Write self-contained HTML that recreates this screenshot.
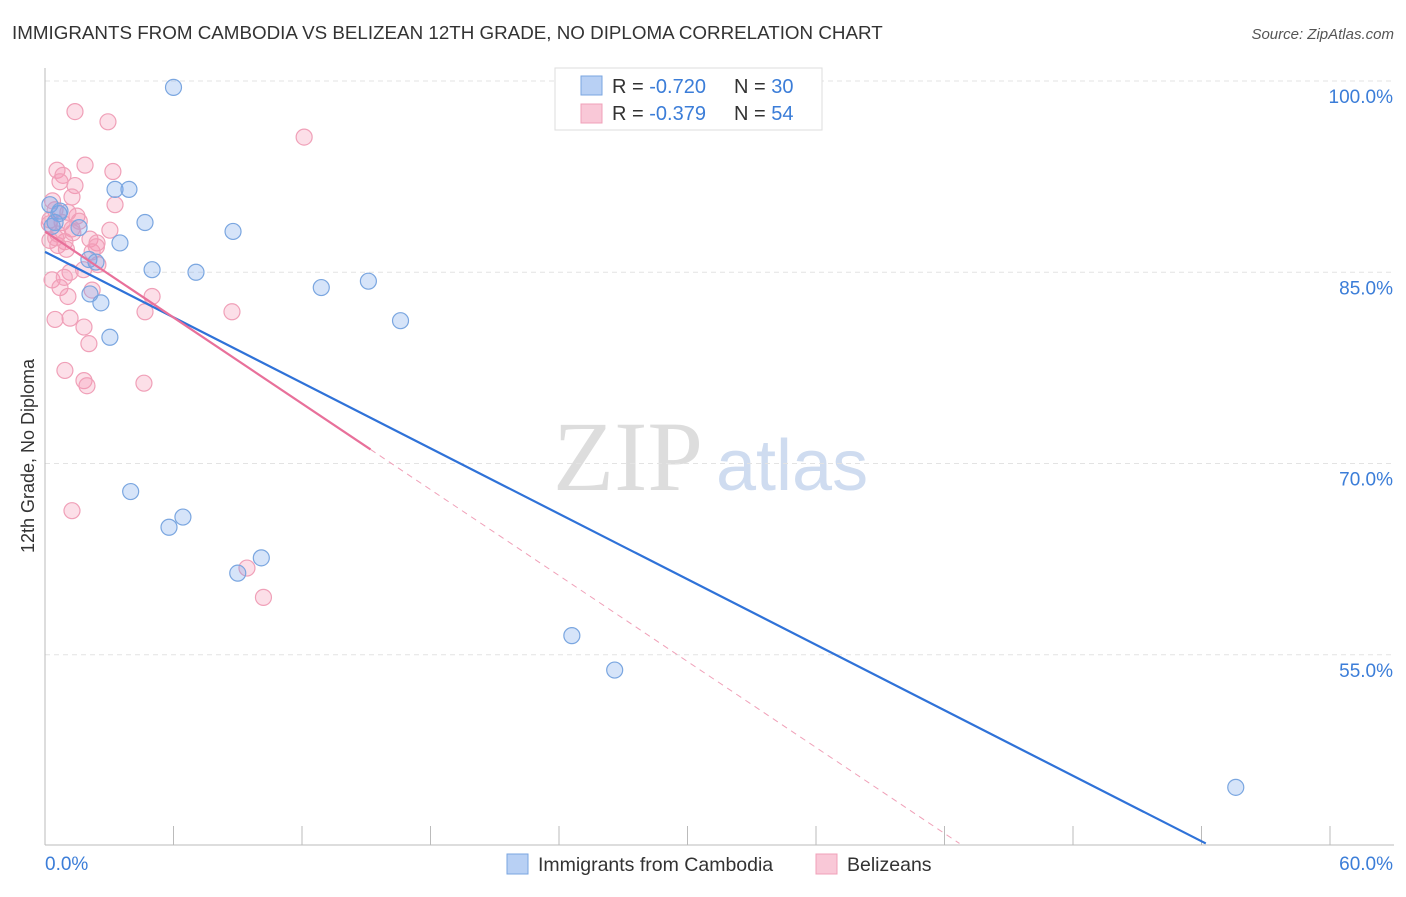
<!DOCTYPE html>
<html><head><meta charset="utf-8"><style>
body{margin:0;background:#fff;font-family:"Liberation Sans",sans-serif;}
</style></head><body>
<svg id="chart" width="1406" height="892" xmlns="http://www.w3.org/2000/svg" style="font-family:'Liberation Sans',sans-serif">
<text x="12" y="39" font-size="18.8" fill="#333">IMMIGRANTS FROM CAMBODIA VS BELIZEAN 12TH GRADE, NO DIPLOMA CORRELATION CHART</text>
<text x="1394" y="39" font-size="15" fill="#555" font-style="italic" text-anchor="end">Source: ZipAtlas.com</text>
<text x="553" y="490" font-size="100" fill="#ddd" font-family="Liberation Serif">ZIP</text>
<text x="716" y="490" font-size="72" fill="#cfdcf0">atlas</text>
<text transform="translate(34,456) rotate(-90)" font-size="18" fill="#333" text-anchor="middle">12th Grade, No Diploma</text>
<g id="grid"></g><g id="axes"></g><g id="marks"></g>
<g>
<rect x="555" y="68" width="267" height="62" fill="#fff" stroke="#ddd"/>
<rect x="581" y="76" width="21" height="19" fill="#b8d0f4" stroke="#7aa6e0"/>
<rect x="581" y="104" width="21" height="19" fill="#f9c8d7" stroke="#f0a0b8"/>
<text x="612" y="93" font-size="20" fill="#333">R = <tspan fill="#3b7dd8">-0.720</tspan></text>
<text x="734" y="93" font-size="20" fill="#333">N = <tspan fill="#3b7dd8">30</tspan></text>
<text x="612" y="120" font-size="20" fill="#333">R = <tspan fill="#3b7dd8">-0.379</tspan></text>
<text x="734" y="120" font-size="20" fill="#333">N = <tspan fill="#3b7dd8">54</tspan></text>
</g>
<g>
<rect x="507" y="854" width="21" height="20" fill="#b8d0f4" stroke="#7aa6e0"/>
<text x="538" y="871" font-size="19.5" fill="#333">Immigrants from Cambodia</text>
<rect x="816" y="854" width="21" height="20" fill="#f9c8d7" stroke="#f0a0b8"/>
<text x="847" y="871" font-size="19.5" fill="#333">Belizeans</text>
</g>
</svg>
<script>
const yTicks=[100,85,70,55];
const yTickLabels=["100.0%","85.0%","70.0%","55.0%"];
const xTicks=[0,6,12,18,24,30,36,42,48,54,60];
const blueX=[6.0,3.27,3.92,4.67,8.78,3.5,1.59,0.23,0.65,2.38,2.05,5.0,7.05,12.9,15.1,2.1,2.61,16.6,3.03,4.0,6.44,5.79,10.1,9.0,24.6,26.6,55.6,0.33,0.7,0.47];
const blueY=[99.5,91.5,91.5,88.9,88.2,87.3,88.5,90.3,89.6,85.8,86.0,85.2,85.0,83.8,84.3,83.3,82.6,81.2,79.9,67.8,65.8,65.0,62.6,61.4,56.5,53.8,44.6,88.6,89.8,88.9];
const pinkX=[1.4,2.94,12.1,1.87,0.56,3.17,0.84,1.4,0.7,1.26,3.27,1.49,1.07,0.47,0.23,0.8,1.26,0.23,0.6,0.93,2.1,3.03,2.43,2.2,2.47,1.17,0.33,0.7,2.2,1.07,5.0,4.67,8.73,0.47,1.17,1.82,2.05,0.93,1.82,1.96,4.62,1.26,9.43,10.2,0.35,0.6,1.0,1.6,2.4,0.2,0.5,1.3,1.8,0.9];
const pinkY=[97.6,96.8,95.6,93.4,93.0,92.9,92.6,91.8,92.1,90.9,90.3,89.4,89.7,89.9,89.1,88.9,88.4,87.5,87.1,87.4,87.6,88.3,87.3,86.6,85.6,85.0,84.4,83.8,83.6,83.1,83.1,81.9,81.9,81.3,81.4,80.7,79.4,77.3,76.5,76.1,76.3,66.3,61.8,59.5,90.6,88.0,86.8,89.0,87.0,88.8,87.7,88.1,85.2,84.6];
const blueLine=[[0,86.6],[54.2,40.2]];
const pinkLine=[[0,88.2],[15.2,71.1]];
const pinkDash=[[15.2,71.1],[42.7,40.2]];
const X=v=>45+v*(1285/60), Y=v=>81+(100-v)*12.75;
const NS="http://www.w3.org/2000/svg";
function mk(p,t,a){const e=document.createElementNS(NS,t);for(const k in a)e.setAttribute(k,a[k]);document.getElementById(p).appendChild(e);return e;}
yTicks.forEach((t,i)=>{
 let l=mk('grid','line',{x1:45,x2:1394,y1:Y(t),y2:Y(t),stroke:'#e3e3e3','stroke-dasharray':'5,4'});
 
 
 let tx=mk('axes','text',{x:1393,y:Y(t)+22,'font-size':19,fill:'#3b7dd8','text-anchor':'end'});tx.textContent=yTickLabels[i];
 
 
});
let ax=mk('axes','line',{x1:45,x2:45,y1:68,y2:845,stroke:'#bbb'});


let bx=mk('axes','line',{x1:45,x2:1394,y1:845,y2:845,stroke:'#bbb'});


xTicks.forEach(t=>{let l=mk('axes','line',{x1:X(t),x2:X(t),y1:826,y2:845,stroke:'#bbb'});
 
 });
let x0=mk('axes','text',{x:45,y:870,'font-size':19,fill:'#3b7dd8'});x0.textContent='0.0%';


let x1=mk('axes','text',{x:1393,y:870,'font-size':19,fill:'#3b7dd8','text-anchor':'end'});x1.textContent='60.0%';


pinkX.forEach((v,i)=>{let c=mk('marks','circle',{cx:X(v),cy:Y(pinkY[i]),r:8,fill:'rgba(244,150,180,0.3)',stroke:'#f0a0b8','stroke-width':1.2});
 
 });
blueX.forEach((v,i)=>{let c=mk('marks','circle',{cx:X(v),cy:Y(blueY[i]),r:8,fill:'rgba(120,165,235,0.3)',stroke:'#7aa6e0','stroke-width':1.2});
 
 });
let pd=mk('marks','line',{x1:X(pinkDash[0][0]),y1:Y(pinkDash[0][1]),x2:X(pinkDash[1][0]),y2:Y(pinkDash[1][1]),stroke:'#f0a0b8','stroke-dasharray':'6,5'});


let bl=mk('marks','line',{x1:X(blueLine[0][0]),y1:Y(blueLine[0][1]),x2:X(blueLine[1][0]),y2:Y(blueLine[1][1]),stroke:'#2f72d8','stroke-width':2.2});


let pl=mk('marks','line',{x1:X(pinkLine[0][0]),y1:Y(pinkLine[0][1]),x2:X(pinkLine[1][0]),y2:Y(pinkLine[1][1]),stroke:'#e8709a','stroke-width':2.2});


</script>
</body></html>
